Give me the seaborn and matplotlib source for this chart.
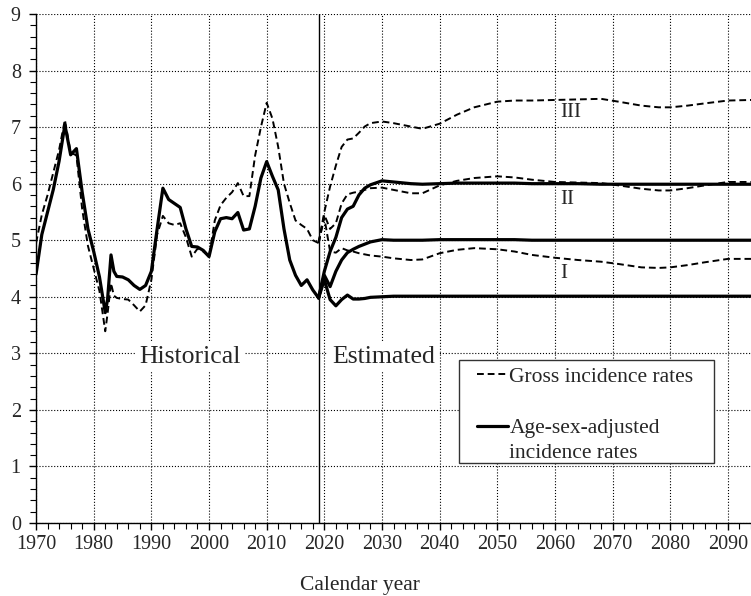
import numpy as np
import pandas as pd
import seaborn as sns
import matplotlib.pyplot as plt
from matplotlib.ticker import MultipleLocator
from matplotlib.patches import Rectangle

# historical period
hist_years = [1970, 1971, 1972, 1973, 1974, 1975, 1976, 1977, 1978, 1979, 1980, 1981,
              1982, 1982.4, 1983, 1983.5, 1984, 1985, 1986, 1987, 1988, 1989, 1990, 1991,
              1992, 1993, 1994, 1995, 1996, 1997, 1998, 1999, 2000, 2001, 2002, 2003,
              2004, 2005, 2006, 2007, 2008, 2009, 2010, 2011, 2012, 2013, 2014, 2015,
              2016, 2017, 2018, 2019]
hist_adjusted = [4.40, 5.10, 5.50, 5.90, 6.40, 7.04, 6.51, 6.62, 5.85, 5.20, 4.80, 4.35,
                 3.72, 3.95, 4.74, 4.45, 4.36, 4.35, 4.30, 4.20, 4.13, 4.20, 4.45, 5.20,
                 5.92, 5.72, 5.65, 5.58, 5.20, 4.89, 4.88, 4.82, 4.71, 5.15, 5.38, 5.40,
                 5.38, 5.49, 5.18, 5.20, 5.60, 6.10, 6.39, 6.13, 5.89, 5.20, 4.65, 4.38,
                 4.20, 4.30, 4.12, 3.98]
hist_gross = [4.95, 5.45, 5.80, 6.20, 6.60, 7.13, 6.55, 6.50, 5.55, 4.90, 4.50, 4.10,
              3.39, 3.70, 4.24, 4.02, 3.98, 3.96, 3.95, 3.85, 3.74, 3.85, 4.30, 5.10,
              5.43, 5.30, 5.27, 5.30, 5.05, 4.71, 4.85, 4.80, 4.71, 5.35, 5.62, 5.75,
              5.85, 6.01, 5.78, 5.78, 6.50, 7.00, 7.43, 7.15, 6.65, 6.00, 5.66, 5.35,
              5.27, 5.20, 5.00, 4.95]

# projections, scenarios I-III
proj_years = [2019, 2020, 2021, 2022, 2023, 2024, 2025, 2026, 2027, 2028, 2030, 2032,
              2035, 2037, 2040, 2043, 2046, 2050, 2053, 2056, 2060, 2064, 2068, 2071,
              2075, 2078, 2080, 2083, 2086, 2090, 2094]
gross_III = [4.95, 5.50, 5.95, 6.32, 6.65, 6.78, 6.80, 6.90, 7.01, 7.07, 7.10, 7.07,
             7.01, 6.97, 7.06, 7.22, 7.35, 7.45, 7.47, 7.47, 7.48, 7.49, 7.50, 7.45,
             7.38, 7.35, 7.35, 7.38, 7.42, 7.47, 7.48]
gross_II = [4.95, 5.45, 5.20, 5.30, 5.65, 5.81, 5.84, 5.86, 5.89, 5.92, 5.93, 5.89,
            5.83, 5.83, 5.97, 6.05, 6.10, 6.13, 6.11, 6.07, 6.03, 6.02, 6.01, 5.97,
            5.91, 5.88, 5.88, 5.92, 5.97, 6.03, 6.03]
gross_I = [4.95, 5.40, 4.80, 4.78, 4.86, 4.82, 4.80, 4.77, 4.75, 4.73, 4.71, 4.68,
           4.65, 4.66, 4.77, 4.83, 4.86, 4.84, 4.80, 4.74, 4.69, 4.65, 4.62, 4.58,
           4.52, 4.51, 4.52, 4.56, 4.61, 4.67, 4.67]
adj_III = [3.98, 4.45, 4.80, 5.05, 5.40, 5.55, 5.60, 5.80, 5.92, 5.98, 6.05, 6.03,
           6.00, 5.99, 6.00, 6.01, 6.01, 6.01, 6.01, 6.00, 6.00, 6.00, 5.99, 5.99,
           5.99, 5.99, 5.99, 5.99, 5.99, 5.99, 5.99]
adj_II = [3.98, 4.38, 4.18, 4.45, 4.65, 4.78, 4.84, 4.89, 4.93, 4.97, 5.01, 5.00,
          5.00, 5.00, 5.01, 5.01, 5.01, 5.01, 5.01, 5.00, 5.00, 5.00, 5.00, 5.00,
          5.00, 5.00, 5.00, 5.00, 5.00, 5.00, 5.00]
adj_I = [3.98, 4.30, 3.95, 3.84, 3.95, 4.03, 3.96, 3.96, 3.97, 3.99, 4.00, 4.01,
         4.01, 4.01, 4.01, 4.01, 4.01, 4.01, 4.01, 4.01, 4.01, 4.01, 4.01, 4.01,
         4.01, 4.01, 4.01, 4.01, 4.01, 4.01, 4.01]

sns.set_style("ticks")
plt.rcParams['font.family'] = ['Liberation Serif', 'DejaVu Serif']

fig = plt.figure(figsize=(7.51, 5.96), dpi=100)
ax = fig.add_axes([0.048, 0.1225, 0.952, 0.854])

dash = (0, (3.5, 2))
lw_s, lw_d = 2.3, 1.4

sns.lineplot(x=hist_years, y=hist_gross, color='black', lw=lw_d, linestyle=dash,
             sort=False, estimator=None, ax=ax, label='Gross incidence rates')
sns.lineplot(x=hist_years, y=hist_adjusted, color='black', lw=lw_s, sort=False,
             estimator=None, ax=ax, label='Age-sex-adjusted')
for g in [gross_I, gross_II, gross_III]:
    sns.lineplot(x=proj_years, y=g, color='black', lw=lw_d, linestyle=dash,
                 sort=False, estimator=None, ax=ax)
for a in [adj_I, adj_II, adj_III]:
    sns.lineplot(x=proj_years, y=a, color='black', lw=lw_s, sort=False,
                 estimator=None, ax=ax)

ax.axvline(2019, color='black', lw=1.0)

ax.set_xlim(1970, 2094)
ax.set_ylim(0, 9)
ax.xaxis.set_major_locator(MultipleLocator(10))
ax.xaxis.set_minor_locator(MultipleLocator(2))
ax.yaxis.set_major_locator(MultipleLocator(1))
ax.yaxis.set_minor_locator(MultipleLocator(0.2))
ax.tick_params(which='major', length=5, width=1, labelsize=14.5, color='black')
ax.tick_params(which='minor', length=4, width=0.8, color='black')
ax.tick_params(axis='x', pad=4)
ax.tick_params(axis='y', pad=6)
ax.grid(True, which='major', color='black', linestyle=':', lw=0.8)
ax.set_axisbelow(True)
sns.despine(ax=ax, top=True, right=True)
for s in ['left', 'bottom']:
    ax.spines[s].set_color('black')
    ax.spines[s].set_linewidth(1.0)

ax.set_xlabel('Calendar year', fontsize=15.5, va='top')
ax.xaxis.set_label_coords(0.453, -0.105)
ax.set_ylabel('')

box = dict(facecolor='white', edgecolor='none', pad=3)
ax.text(1996.7, 2.94, 'Historical', fontsize=18.5, ha='center', va='center', bbox=box)
ax.text(2021.3, 2.94, 'Estimated', fontsize=18.5, ha='left', va='center', bbox=box)
ax.text(2062.8, 7.26, 'III', fontsize=15, ha='center', va='center')
ax.text(2062.1, 5.72, 'II', fontsize=15, ha='center', va='center')
ax.text(2061.6, 4.42, 'I', fontsize=15, ha='center', va='center')

# legend frame drawn separately so the padding can be wider than tall
ax.add_patch(Rectangle((0.5916, 0.118), 0.3566, 0.2024, transform=ax.transAxes,
                       facecolor='white', edgecolor='#333333', lw=1.0, zorder=4))
leg = ax.legend(loc='upper left', bbox_to_anchor=(0.617, 0.307), fontsize=15.5,
                frameon=False, handlelength=1.45, handletextpad=0.05,
                labelspacing=1.45, borderaxespad=0, borderpad=0)
leg.set_zorder(5)
# second line of the solid-line entry, handle stays on the first line
ax.text(0.6615, 0.137, 'incidence rates', transform=ax.transAxes, fontsize=15.5,
        ha='left', va='center', zorder=6)

fig.savefig('out.png', dpi=100)
